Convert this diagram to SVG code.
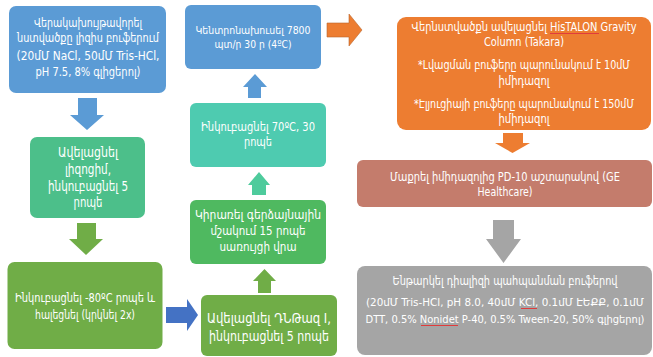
<svg xmlns="http://www.w3.org/2000/svg" width="653" height="357" viewBox="0 0 653 357">
<style>
.t{font-family:"DejaVu Sans Condensed","DejaVu Sans","Noto Sans",sans-serif;font-stretch:condensed;fill:#fff;text-anchor:middle}
.s11{font-size:11px}.s12{font-size:12px}.s13{font-size:12.5px}.s14{font-size:13.5px}.s15{font-size:14.5px}.s8{font-size:11.5px}.s10{font-size:10.8px}
.sq{stroke:#e03c3c;stroke-width:1;fill:none}
</style>
<rect width="653" height="357" fill="#fff"/>
<g id="connectors">
<polygon fill="#5B9BD5" points="78,98 97,98 97,115 104,115 87,130 70,115 78,115"/>
<polygon fill="#70AD47" points="77,223 96,223 96,239 103,239 86,255 69,239 77,239"/>
<polygon fill="#4472C4" points="166,307 187,307 187,299 198,315 187,331 187,323 166,323"/>
<polygon fill="#70AD47" points="264.5,269 276,281 271,281 271,293 258,293 258,281 253,281"/>
<polygon fill="#4ECB9C" points="259,172 270,185 266,185 266,195 252,195 252,185 248,185"/>
<polygon fill="#5B9BD5" points="255,74 267,87 261,87 261,98 248,98 248,87 243,87"/>
<polygon fill="#ED7D31" stroke="#b8672e" stroke-width="0.6" points="327,23 349,23 349,14 362,30 349,46 349,37 327,37"/>
<polygon fill="#ED7D31" points="503,133 523,133 523,143 530,143 512.5,153 495,143 503,143"/>
<polygon fill="#A5A5A5" points="493,220 514,220 514,239 521,239 503.5,263 486,239 493,239"/>
</g>
<g id="n1">
<rect x="9" y="6" width="157" height="87" rx="7" fill="#5B9BD5"/>
<text class="t s12" x="88" y="27" textLength="108" lengthAdjust="spacingAndGlyphs">Վերակախույթավորել</text>
<text class="t s12" x="88" y="42" textLength="142" lengthAdjust="spacingAndGlyphs">նստվածքը լիզիս բուֆերում</text>
<text class="t s12" x="88" y="60" textLength="143" lengthAdjust="spacingAndGlyphs">(20մՄ NaCl, 50մՄ Tris-HCl,</text>
<text class="t s12" x="88" y="76" textLength="105" lengthAdjust="spacingAndGlyphs">pH 7.5, 8% գլիցերոլ)</text>
</g>
<g id="n2">
<rect x="30" y="137" width="115" height="81" rx="7" fill="#4CBF8A"/>
<text class="t s14" x="88" y="157" textLength="60" lengthAdjust="spacingAndGlyphs">Ավելացնել</text>
<text class="t s14" x="88" y="174" textLength="46" lengthAdjust="spacingAndGlyphs">լիզոցիմ,</text>
<text class="t s14" x="88" y="191" textLength="80" lengthAdjust="spacingAndGlyphs">ինկուբացնել 5</text>
<text class="t s14" x="88" y="207" textLength="29" lengthAdjust="spacingAndGlyphs">րոպե</text>
</g>
<g id="n3">
<rect x="7.5" y="262" width="155" height="87" rx="7" fill="#70AD47"/>
<text class="t s12" x="85" y="302" textLength="140" lengthAdjust="spacingAndGlyphs">Ինկուբացնել -80ºC րոպե և</text>
<text class="t s12" x="85" y="319" textLength="100" lengthAdjust="spacingAndGlyphs">հալեցնել (կրկնել 2x)</text>
</g>
<g id="n4">
<rect x="201" y="295" width="136" height="61" rx="6" fill="#70AD47"/>
<text class="t s15" x="269" y="323" textLength="124" lengthAdjust="spacingAndGlyphs">Ավելացնել ԴՆԹազ I,</text>
<text class="t s15" x="269" y="341" textLength="120" lengthAdjust="spacingAndGlyphs">ինկուբացնել 5 րոպե</text>
</g>
<g id="n5">
<rect x="190" y="200" width="136" height="64" rx="6" fill="#4FB960"/>
<text class="t s13" x="258" y="219" textLength="126" lengthAdjust="spacingAndGlyphs">Կիրառել գերձայնային</text>
<text class="t s13" x="258" y="235" textLength="95" lengthAdjust="spacingAndGlyphs">մշակում 15 րոպե</text>
<text class="t s13" x="258" y="251" textLength="77" lengthAdjust="spacingAndGlyphs">սառույցի վրա</text>
</g>
<g id="n6">
<rect x="190" y="103" width="136" height="64" rx="6" fill="#4ECBB0"/>
<text class="t s13" x="258" y="131" textLength="114" lengthAdjust="spacingAndGlyphs">Ինկուբացնել 70ºC, 30</text>
<text class="t s13" x="258" y="146" textLength="28" lengthAdjust="spacingAndGlyphs">րոպե</text>
</g>
<g id="n7">
<rect x="185" y="5" width="136" height="64" rx="6" fill="#5B9BD5"/>
<text class="t s11" x="253" y="34" textLength="115" lengthAdjust="spacingAndGlyphs">Կենտրոնախուսել 7800</text>
<text class="t s11" x="253" y="48" textLength="77" lengthAdjust="spacingAndGlyphs">պտ/ր  30 ր (4ºC)</text>
</g>
<g id="n8">
<rect x="397" y="17" width="254" height="113" rx="9" fill="#ED7D31"/>
<text class="t s8" x="524" y="31" textLength="225" lengthAdjust="spacingAndGlyphs">Վերնստվածքն ավելացնել HisTALON Gravity</text>
<text class="t s8" x="524" y="46" textLength="80" lengthAdjust="spacingAndGlyphs">Column (Takara)</text>
<text class="t s8" x="524" y="69" textLength="212" lengthAdjust="spacingAndGlyphs">*Լվացման բուֆերը պարունակում է 10մՄ</text>
<text class="t s8" x="524" y="85" textLength="51" lengthAdjust="spacingAndGlyphs">իմիդազոլ</text>
<text class="t s8" x="524" y="108" textLength="220" lengthAdjust="spacingAndGlyphs">*Էլյուցիայի բուֆերը պարունակում է  150մՄ</text>
<text class="t s8" x="524" y="123" textLength="51" lengthAdjust="spacingAndGlyphs">իմիդազոլ</text>
<path class="sq" d="M550,33.5 L599,33.5"/>
</g>
<g id="n9">
<rect x="357" y="160" width="295" height="47" rx="6" fill="#C47C6C"/>
<text class="t s13" x="505" y="181" textLength="230" lengthAdjust="spacingAndGlyphs">Մաքրել իմիդազոլից PD-10 աշտարակով (GE</text>
<text class="t s13" x="505" y="196" textLength="55" lengthAdjust="spacingAndGlyphs">Healthcare)</text>
</g>
<g id="n10">
<rect x="357" y="266" width="295" height="89" rx="8" fill="#A5A5A5"/>
<text class="t s13" x="505" y="285" textLength="225" lengthAdjust="spacingAndGlyphs">Ենթարկել դիալիզի պահպանման բուֆերով</text>
<text class="t s10" x="505" y="306" textLength="278" lengthAdjust="spacingAndGlyphs">(20մՄ Tris-HCl, pH 8.0, 40մՄ KCl, 0.1մՄ ԷԵՔՔ, 0.1մՄ</text>
<text class="t s10" x="505" y="323" textLength="279" lengthAdjust="spacingAndGlyphs">DTT, 0.5% Nonidet P-40, 0.5% Tween-20, 50% գլիցերոլ)</text>
<path class="sq" d="M521,308.5 L537,308.5"/>
<path class="sq" d="M421,325.5 L458,325.5"/>
</g>
</svg>
